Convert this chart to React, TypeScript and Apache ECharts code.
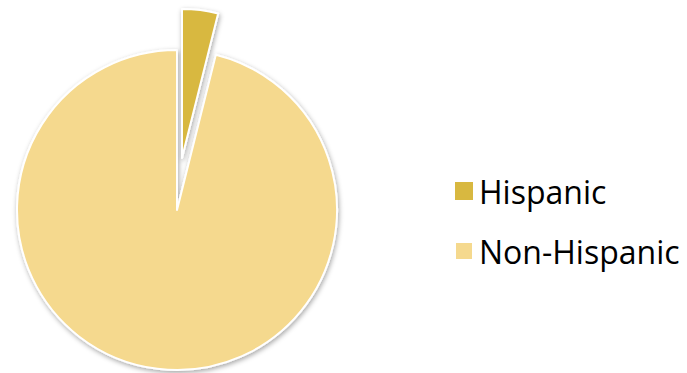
import React, { useEffect, useRef } from "react";
import * as echarts from "echarts";

const categories = ["Hispanic", "Non-Hispanic"];
const values = [3.9, 96.1];
const colors = ["#D8B840", "#F5D98E"];

export default function App() {
  const ref = useRef<HTMLDivElement>(null);
  useEffect(() => {
    if (!ref.current) return;
    const chart = echarts.init(ref.current, null, { renderer: "svg" });
    const baseItem = {
      borderColor: "#FFFFFF",
      borderWidth: 2,
      shadowBlur: 5,
      shadowColor: "rgba(0,0,0,0.35)",
      shadowOffsetX: 1,
      shadowOffsetY: 2,
    };
    const mk = (visibleIdx: number) =>
      categories.map((name, i) => ({
        name,
        value: values[i],
        itemStyle:
          i === visibleIdx
            ? { ...baseItem, color: colors[i] }
            : { color: "rgba(0,0,0,0)", borderWidth: 0, shadowBlur: 0, shadowColor: "rgba(0,0,0,0)" },
      }));
    chart.setOption({
      animation: false,
      legend: {
        orient: "vertical",
        left: 449,
        top: 168,
        icon: "rect",
        itemWidth: 18,
        itemHeight: 18,
        itemGap: 24,
        selectedMode: false,
        textStyle: { fontSize: 32, lineHeight: 36, color: "#000", fontFamily: "Open Sans", padding: [0, 0, 0, 1] },
        data: categories.map((name, i) => ({ name, itemStyle: { color: colors[i] } })),
      },
      series: [
        {
          type: "pie",
          center: [177, 210],
          radius: 160,
          startAngle: 90,
          clockwise: true,
          silent: true,
          label: { show: false },
          labelLine: { show: false },
          data: mk(1),
        },
        {
          type: "pie",
          center: [182, 158],
          radius: 149,
          startAngle: 90,
          clockwise: true,
          silent: true,
          label: { show: false },
          labelLine: { show: false },
          data: mk(0),
        },
      ],
    });
    return () => chart.dispose();
  }, []);
  return <div ref={ref} style={{ width: 687, height: 373, position: "absolute", left: 0, top: 0, background: "#fff" }} />;
}
